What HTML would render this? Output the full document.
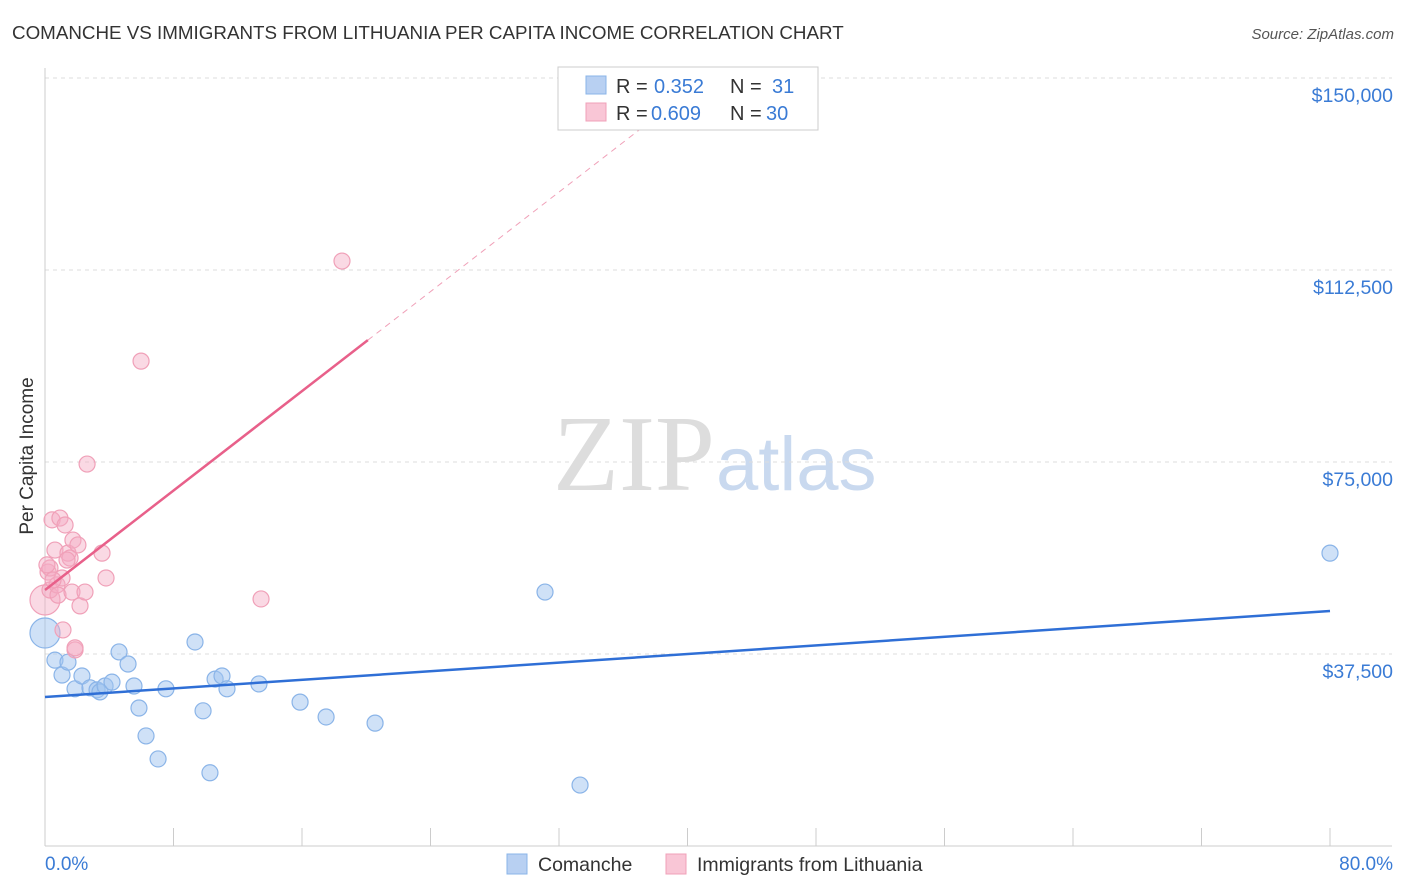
<!DOCTYPE html>
<html><head><meta charset="utf-8"><style>
body{margin:0;background:#fff;font-family:"Liberation Sans",sans-serif;}
svg{display:block}
</style></head><body>
<svg width="1406" height="892" xmlns="http://www.w3.org/2000/svg">
<text x="12" y="39" font-size="18.8" fill="#333">COMANCHE VS IMMIGRANTS FROM LITHUANIA PER CAPITA INCOME CORRELATION CHART</text>
<text x="1394" y="39" font-size="15" fill="#555" font-style="italic" text-anchor="end">Source: ZipAtlas.com</text>
<text x="715" y="490" font-size="108" fill="#ddd" text-anchor="end" font-family="Liberation Serif,serif">ZIP</text>
<text x="716" y="490" font-size="76" fill="#c9d9ef">atlas</text>
<g id="grid"></g>
<line x1="45" y1="68" x2="45" y2="846" stroke="#ccc"/>
<line x1="45" y1="846" x2="1392" y2="846" stroke="#ccc"/>
<text x="33" y="456" font-size="19" fill="#333" text-anchor="middle" transform="rotate(-90 33 456)">Per Capita Income</text>
<text x="45" y="870" font-size="19" fill="#3a7bd5">0.0%</text>
<text x="1393" y="870" font-size="19" fill="#3a7bd5" text-anchor="end">80.0%</text>
<g id="marks"></g>
<g>
<rect x="558" y="67" width="260" height="63" fill="#fff" stroke="#ccc"/>
<rect x="586" y="76" width="20" height="18" fill="#b8d0f2" stroke="#8ab4e8"/>
<rect x="586" y="103" width="20" height="18" fill="#f9c6d6" stroke="#f0a0b8"/>
<text x="616" y="93" font-size="20" fill="#333">R = <tspan fill="#3a7bd5" x="654">0.352</tspan><tspan x="730">N = </tspan><tspan fill="#3a7bd5" x="772">31</tspan></text>
<text x="616" y="120" font-size="20" fill="#333">R = <tspan fill="#3a7bd5" x="651">0.609</tspan><tspan x="730">N = </tspan><tspan fill="#3a7bd5" x="766">30</tspan></text>
</g>
<g>
<rect x="507" y="854" width="20" height="20" fill="#b8d0f2" stroke="#8ab4e8"/>
<text x="538" y="871" font-size="19.5" fill="#333">Comanche</text>
<rect x="666" y="854" width="20" height="20" fill="#f9c6d6" stroke="#f0a0b8"/>
<text x="697" y="871" font-size="19.5" fill="#333">Immigrants from Lithuania</text>
</g>
</svg>
<script>
const yTicks=[37500,75000,112500,150000];
const yTickLabels=["$37,500","$75,000","$112,500","$150,000"];
const xTickVals=[0,8,16,24,32,40,48,56,64,72,80];
const blueX=[0,0.62,1.06,1.43,1.87,2.30,2.80,3.24,3.42,3.74,4.17,4.61,5.17,5.54,5.85,6.29,7.04,7.53,9.34,9.84,10.27,10.59,11.02,11.33,13.32,15.88,17.50,20.55,31.13,33.31,80];
const blueY=[41600,36300,33400,35900,30700,33200,30900,30500,30100,31250,32000,37900,35550,31250,26950,21500,17000,30700,39850,26400,14300,32600,33200,30700,31650,28100,25200,24000,49600,11900,57200];
const pinkX=[0,0.19,0.31,0.44,0.62,0.75,0.81,0.93,1.06,1.12,1.25,1.43,1.56,1.68,1.74,1.87,2.05,2.18,2.49,2.62,3.55,3.80,5.98,13.45,18.49,0.31,0.5,1.37,0.12,1.87];
const pinkY=[48050,53500,50000,63700,57800,51000,49000,64050,52350,42200,62700,57200,56250,49600,59750,38300,58800,46900,49600,74600,57200,52350,94700,48250,114250,54300,51950,55850,54900,38700];
const blueTrend=[29100,45900];
const pinkTrend=[50000,98800,140000];
const pinkTrendX=[0,20.1,37.05];
const X=v=>45+v*(1285/80);
const Y=v=>654-(v-37500)*192/37500;
const NS="http://www.w3.org/2000/svg";
const grid=document.getElementById('grid'),marks=document.getElementById('marks');
function mk(tag,attrs,parent){const e=document.createElementNS(NS,tag);for(const k in attrs)e.setAttribute(k,attrs[k]);parent.appendChild(e);return e;}
yTicks.forEach((v,i)=>{
 const l=mk('line',{x1:45,x2:1392,y1:Y(v),y2:Y(v),stroke:'#ddd','stroke-dasharray':'4 4'},grid);
 
 
 const t=mk('text',{x:1393,y:Y(v)+24,'font-size':19.5,fill:'#3a7bd5','text-anchor':'end'},grid);
 t.textContent=yTickLabels[i];
 
 
});
xTickVals.forEach(v=>{
 const l=mk('line',{x1:X(v),x2:X(v),y1:828,y2:846,stroke:'#ccc'},grid);
 
 
});
blueX.forEach((x,i)=>{
 const big=x===0;
 const c=mk('circle',{cx:X(x),cy:Y(blueY[i]),r:big?15:8,fill:'rgba(160,195,240,0.5)',stroke:'#8ab4e8','stroke-width':1.2},marks);
 
 
});
pinkX.forEach((x,i)=>{
 const big=i===0;
 const c=mk('circle',{cx:X(x),cy:Y(pinkY[i]),r:big?15:8,fill:'rgba(245,170,195,0.45)',stroke:'#f0a0b8','stroke-width':1.2},marks);
 
 
});
const bl=mk('line',{x1:X(0),y1:Y(blueTrend[0]),x2:X(80),y2:Y(blueTrend[1]),stroke:'#2f6fd6','stroke-width':2.5},marks);


const pl=mk('line',{x1:X(pinkTrendX[0]),y1:Y(pinkTrend[0]),x2:X(pinkTrendX[1]),y2:Y(pinkTrend[1]),stroke:'#e8608a','stroke-width':2.5},marks);


const pd=mk('line',{x1:X(pinkTrendX[1]),y1:Y(pinkTrend[1]),x2:X(pinkTrendX[2]),y2:Y(pinkTrend[2]),stroke:'#f0a0b8','stroke-width':1,'stroke-dasharray':'6 5'},marks);


</script>
</body></html>
